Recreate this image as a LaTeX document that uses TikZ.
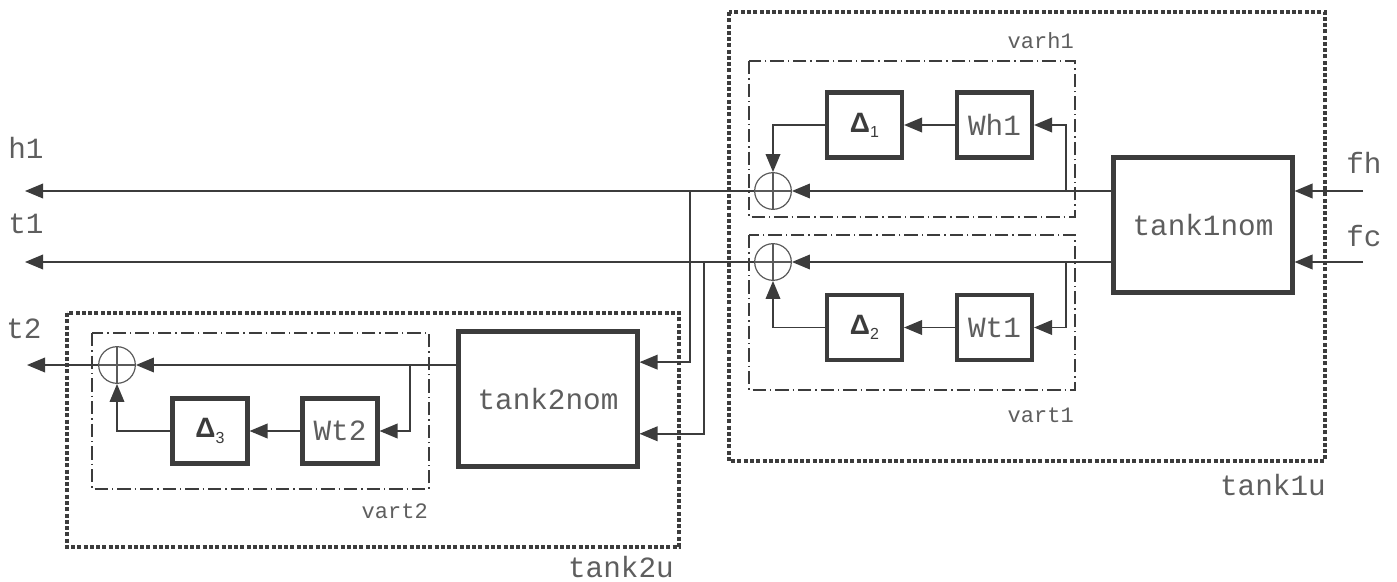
\documentclass[tikz,border=0pt]{standalone}
\usepackage{fontspec}
\setmonofont{Liberation Mono}
\newfontfamily\dsans{Liberation Sans}
\usetikzlibrary{arrows.meta,calc}
\definecolor{ln}{HTML}{3C3C3C}
\definecolor{tx}{HTML}{5E5E5E}
\definecolor{cc}{HTML}{5A5A5A}
\newcommand{\dlt}[1]{{\dsans\fontsize{21}{21}\selectfont\bfseries\color{ln}Δ\raisebox{-0.35ex}{\fontsize{12}{12}\selectfont\mdseries #1}}}
\begin{document}
\begin{tikzpicture}[x=0.75pt,y=-0.75pt,
  conn/.style={draw=ln,line width=1.1pt},
  arr/.style={conn,-{Triangle[length=13.5pt,width=11pt]}},
  blk/.style={draw=ln,line width=3.3pt,fill=white,minimum width=56pt,minimum height=48.5pt,inner sep=0pt,
    font=\ttfamily\fontsize{22}{24}\selectfont,text=tx},
  big/.style={blk,minimum width=134pt,minimum height=101pt},
  sumnode/.style={circle,draw=cc,line width=0.9pt,minimum size=27.5pt,inner sep=0pt},
  lbl/.style={inner sep=0pt,font=\ttfamily\fontsize{22}{24}\selectfont,text=tx},
  slbl/.style={inner sep=0pt,font=\ttfamily\fontsize{16.5}{18}\selectfont,text=tx},
  dotbox/.style={draw=ln,line width=2.6pt,dash pattern=on 3pt off 1.7pt},
  ddbox/.style={draw=ln,line width=0.8pt,dash pattern=on 10pt off 3pt on 1pt off 3pt}]
\useasboundingbox (0,0) rectangle (1397,582);

% group boxes
\draw[dotbox] (729,12) rectangle (1325,461);
\draw[dotbox] (67,313) rectangle (679,547);
\draw[ddbox] (749,61) rectangle (1075,217);
\draw[ddbox] (749,235) rectangle (1075,390);
\draw[ddbox] (92,333) rectangle (429,489);

% blocks
\node[big] (t1n) at (1203,225) {tank1nom};
\node[big] (t2n) at (548,399) {tank2nom};
\node[blk] (d1) at (864.5,125) {\dlt{1}};
\node[blk] (wh1) at (994.5,125) {Wh1};
\node[blk] (d2) at (864.5,327.5) {\dlt{2}};
\node[blk] (wt1) at (994.5,327.5) {Wt1};
\node[blk] (d3) at (210,431) {\dlt{3}};
\node[blk] (wt2) at (340,431) {Wt2};

% summing junctions
\node[sumnode] (s1) at (773,191) {};
\node[sumnode] (s2) at (773,262) {};
\node[sumnode] (s3) at (117,365) {};
\foreach \s in {s1,s2,s3}{
  \draw[draw=cc,line width=0.9pt] (\s.north) -- (\s.south);
  \draw[draw=cc,line width=0.9pt] (\s.west) -- (\s.east);
}

% coordinates
\coordinate (h1o) at (25,191);
\coordinate (t1o) at (25,262);
\coordinate (t2o) at (27,365);
\coordinate (fhi) at (1363,191);
\coordinate (fci) at (1363,262);
\coordinate (b1) at (1066,191);
\coordinate (b2) at (1066,262);
\coordinate (b3) at (690,191);
\coordinate (b4) at (704,262);
\coordinate (b5) at (410,365);
\coordinate (in1) at ($(t2n.north east)!0.235!(t2n.south east)$);
\coordinate (in2) at ($(t2n.north east)!0.75!(t2n.south east)$);

% inputs to tank1nom
\draw[arr] (fhi) -- (t1n.east |- fhi);
\draw[arr] (fci) -- (t1n.east |- fci);

% h1 path
\draw[arr] (t1n.west |- s1) -- (s1.east);
\draw[arr] (b1) |- (wh1.east);
\draw[arr] (wh1.west) -- (d1.east);
\draw[arr] (d1.west) -| (s1.north);
\draw[arr] (s1.west) -- (h1o);

% t1 path
\draw[arr] (t1n.west |- s2) -- (s2.east);
\draw[arr] (b2) |- (wt1.east);
\draw[arr] (wt1.west) -- (d2.east);
\draw[arr] (d2.west) -| (s2.south);
\draw[arr] (s2.west) -- (t1o);

% to tank2nom
\draw[arr] (b3) |- (in1);
\draw[arr] (b4) |- (in2);

% t2 path
\draw[arr] (t2n.west |- s3) -- (s3.east);
\draw[arr] (b5) |- (wt2.east);
\draw[arr] (wt2.west) -- (d3.east);
\draw[arr] (d3.west) -| (s3.south);
\draw[arr] (s3.west) -- (t2o);

% labels
\node[lbl,anchor=base west] (lh1) at (8,158) {h1};
\node[lbl,anchor=base west] (lt1) at (8,233) {t1};
\node[lbl,anchor=base west] (lt2) at (6,338) {t2};
\node[lbl,anchor=base west] (lfh) at (1346,173) {fh};
\node[lbl,anchor=base west] (lfc) at (1346,246) {fc};
\node[slbl,anchor=base east] (lvh1) at (1074,48) {varh1};
\node[slbl,anchor=base east] (lvt1) at (1074,422) {vart1};
\node[slbl,anchor=base east] (lvt2) at (428,518) {vart2};
\node[lbl,anchor=base east] (lt1u) at (1326,495) {tank1u};
\node[lbl,anchor=base east] (lt2u) at (674,577) {tank2u};
\end{tikzpicture}
\end{document}
